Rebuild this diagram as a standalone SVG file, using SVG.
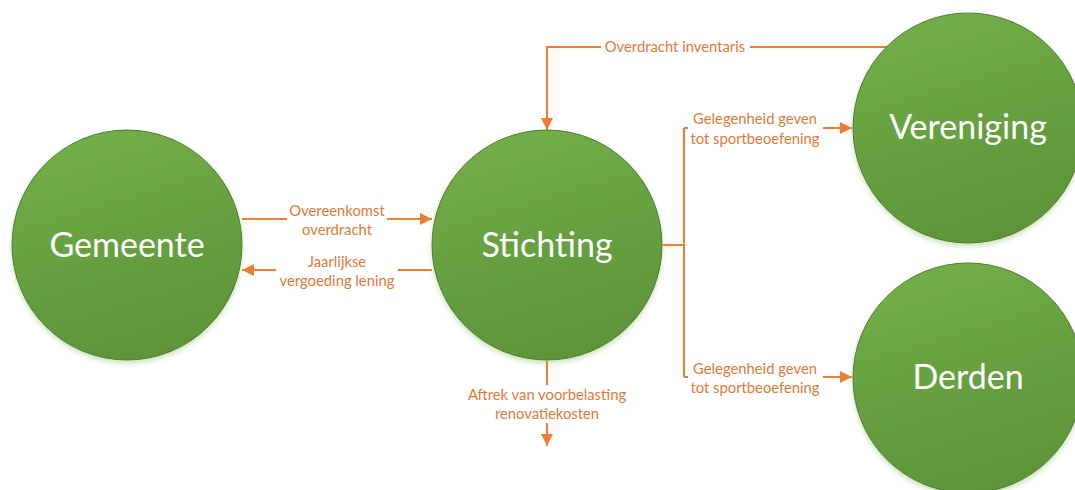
<svg xmlns="http://www.w3.org/2000/svg" width="1075" height="490" viewBox="0 0 1075 490">
<defs>
<linearGradient id="g" x1="0.35" y1="0" x2="0.65" y2="1">
<stop offset="0" stop-color="#72AE48"/>
<stop offset="0.5" stop-color="#66A040"/>
<stop offset="1" stop-color="#5D9438"/>
</linearGradient>
<filter id="sh" x="-20%" y="-20%" width="140%" height="150%">
<feGaussianBlur in="SourceAlpha" stdDeviation="2.5"/>
<feOffset dy="3" result="b"/>
<feFlood flood-color="#8FBF6A" flood-opacity="0.45"/>
<feComposite in2="b" operator="in"/>
<feMerge><feMergeNode/><feMergeNode in="SourceGraphic"/></feMerge>
</filter>
<marker id="ah" viewBox="0 0 10 10" refX="10" refY="5" markerWidth="12" markerHeight="12" markerUnits="userSpaceOnUse" orient="auto">
<path d="M0,0 L10,5 L0,10 Z" fill="#ED7D31"/>
</marker>
</defs>
<style>
.node{fill:url(#g);stroke:#4E7D30;stroke-width:1;filter:url(#sh)}
.nt{font-family:Lato,"Liberation Sans",sans-serif;font-size:34px;fill:#FFFFFF;text-anchor:middle}
.c{fill:none;stroke:#ED7D31;stroke-width:2}
.lb{font-family:Lato,"Liberation Sans",sans-serif;font-size:14.8px;fill:#E07A3A;text-anchor:middle}
.bg{fill:#FFFFFF}
</style>
<rect width="1075" height="490" fill="#FFFFFF"/>
<g id="connectors">
<path class="c" d="M242,219 H432" marker-end="url(#ah)"/>
<path class="c" d="M432,270 H242" marker-end="url(#ah)"/>
<path class="c" d="M887,47 H547 V130" marker-end="url(#ah)"/>
<path class="c" d="M663,245 H684 M684,128 V377"/>
<path class="c" d="M684,128 H852" marker-end="url(#ah)"/>
<path class="c" d="M684,377 H852" marker-end="url(#ah)"/>
<path class="c" d="M547,361 V446" marker-end="url(#ah)"/>
<rect class="bg" x="287" y="202" width="100" height="36"/>
<rect class="bg" x="276" y="253" width="122" height="36"/>
<rect class="bg" x="601" y="39" width="149" height="16"/>
<rect class="bg" x="688" y="110" width="135" height="38"/>
<rect class="bg" x="688" y="359" width="135" height="38"/>
<rect class="bg" x="464" y="385" width="166" height="38"/>
<text class="lb" x="337" y="216">Overeenkomst</text>
<text class="lb" x="337" y="235">overdracht</text>
<text class="lb" x="337" y="267">Jaarlijkse</text>
<text class="lb" x="337" y="286">vergoeding lening</text>
<text class="lb" x="675" y="52">Overdracht inventaris</text>
<text class="lb" x="755" y="124">Gelegenheid geven</text>
<text class="lb" x="755" y="144">tot sportbeoefening</text>
<text class="lb" x="755" y="374">Gelegenheid geven</text>
<text class="lb" x="755" y="393">tot sportbeoefening</text>
<text class="lb" x="547" y="400">Aftrek van voorbelasting</text>
<text class="lb" x="547" y="419">renovatiekosten</text>
</g>
<g id="gemeente">
<circle class="node" cx="127" cy="245" r="115"/>
<text class="nt" x="127" y="257">Gemeente</text>
</g>
<g id="stichting">
<circle class="node" cx="547" cy="245" r="115"/>
<text class="nt" x="547" y="257">Stichting</text>
</g>
<g id="vereniging">
<circle class="node" cx="968" cy="128" r="115"/>
<text class="nt" x="968" y="139">Vereniging</text>
</g>
<g id="derden">
<circle class="node" cx="968" cy="378" r="115"/>
<text class="nt" x="968" y="389">Derden</text>
</g>
</svg>
